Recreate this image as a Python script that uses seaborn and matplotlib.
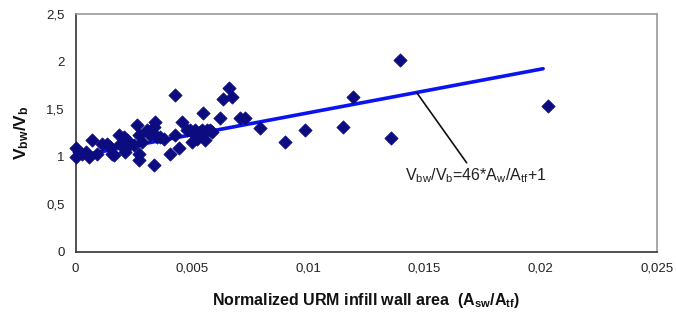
import matplotlib
matplotlib.use("Agg")
import matplotlib.pyplot as plt
import seaborn as sns
import pandas as pd

# Data
x_vals = [0.0, 0.0, 0.00014, 0.00029, 0.00043, 0.00057, 0.00071, 0.00093, 0.00114, 0.00136,
          0.0015, 0.00157, 0.00164, 0.00186, 0.00193, 0.00207, 0.00214, 0.00221, 0.00236, 0.0025,
          0.00264, 0.00271, 0.00271, 0.00274, 0.00286, 0.00307, 0.00321, 0.00336, 0.00343, 0.00339,
          0.0035, 0.00364, 0.00379, 0.00407, 0.00429, 0.00429, 0.00443, 0.00457, 0.00479, 0.00493,
          0.005, 0.00507, 0.00514, 0.00521, 0.00529, 0.00536, 0.00543, 0.0055, 0.0055, 0.00557,
          0.00564, 0.00579, 0.00586, 0.00619, 0.00636, 0.00661, 0.00671, 0.00707, 0.00729, 0.00793,
          0.009, 0.00986, 0.0115, 0.01193, 0.01358, 0.01396, 0.0203]
y_vals = [1.085, 0.996, 1.049, 1.032, 1.049, 0.996, 1.173, 1.032, 1.137, 1.137,
          1.102, 1.032, 1.014, 1.225, 1.137, 1.208, 1.049, 1.173, 1.137, 1.12,
          1.331, 1.225, 1.032, 0.961, 1.155, 1.278, 1.225, 1.313, 1.366, 0.908,
          1.208, 1.208, 1.19, 1.032, 1.648, 1.225, 1.085, 1.366, 1.278, 1.278,
          1.155, 1.243, 1.278, 1.19, 1.243, 1.261, 1.278, 1.454, 1.243, 1.173,
          1.278, 1.278, 1.261, 1.401, 1.602, 1.718, 1.630, 1.401, 1.401, 1.296,
          1.155, 1.278, 1.313, 1.630, 1.194, 2.013, 1.535]

fit_x = [0.0, 0.0201]
fit_y = [1.0, 1.925]

x_ticks = [0, 0.005, 0.01, 0.015, 0.02, 0.025]
x_tick_labels = ["0", "0,005", "0,01", "0,015", "0,02", "0,025"]
y_ticks = [0, 0.5, 1, 1.5, 2, 2.5]
y_tick_labels = ["0", "0,5", "1", "1,5", "2", "2,5"]

sns.set_style("white")
plt.rcParams['font.family'] = ['Liberation Sans', 'DejaVu Sans']
plt.rcParams['mathtext.fontset'] = 'custom'
plt.rcParams['mathtext.rm'] = 'Liberation Sans'
plt.rcParams['mathtext.it'] = 'Liberation Sans'
plt.rcParams['mathtext.bf'] = 'Liberation Sans:bold'

df = pd.DataFrame({"x": x_vals, "y": y_vals})
fit = pd.DataFrame({"x": fit_x, "y": fit_y})

fig = plt.figure(figsize=(6.76, 3.21), dpi=100)
ax = fig.add_axes([0.1117, 0.2165, 0.972 - 0.1117, 0.956 - 0.2165])

sns.lineplot(data=fit, x="x", y="y", ax=ax, color="#0a14f0", linewidth=2.6, zorder=2)
sns.scatterplot(data=df, x="x", y="y", ax=ax, marker="D", color="#0c0c80",
                s=46, edgecolor="#0c0c80", linewidth=0.5, zorder=3, clip_on=False)

ax.set_xlim(0, 0.025)
ax.set_ylim(0, 2.5)
ax.set_xticks(x_ticks)
ax.set_xticklabels(x_tick_labels)
ax.set_yticks(y_ticks)
ax.set_yticklabels(y_tick_labels)
ax.tick_params(axis="both", direction="out", length=4, width=1, color="#444444",
               labelsize=9.5, labelcolor="#222222", pad=4)
for side in ["top", "right"]:
    ax.spines[side].set_color("#999999")
    ax.spines[side].set_linewidth(1.2)
for side in ["left", "bottom"]:
    ax.spines[side].set_color("#333333")
    ax.spines[side].set_linewidth(1.2)

ax.set_xlabel(r"Normalized URM infill wall area  (A$_{\mathbf{sw}}$/A$_{\mathbf{tf}}$)",
              fontsize=11.5, fontweight="bold", labelpad=12, color="#111111")
ax.set_ylabel(r"V$_{\mathbf{bw}}$/V$_{\mathbf{b}}$", fontsize=12.5, fontweight="bold",
              labelpad=11, color="#111111")

ax.annotate(r"V$_{\mathrm{bw}}$/V$_{\mathrm{b}}$=46*A$_{\mathrm{w}}$/A$_{\mathrm{tf}}$+1",
            xy=(0.01468, 1.669), xytext=(0.0172, 0.90),
            ha="center", va="top", fontsize=11.5, color="#222222",
            arrowprops=dict(arrowstyle="-", color="#111111", lw=1.2,
                            shrinkA=0, shrinkB=0))

fig.savefig("out.png", dpi=100)
